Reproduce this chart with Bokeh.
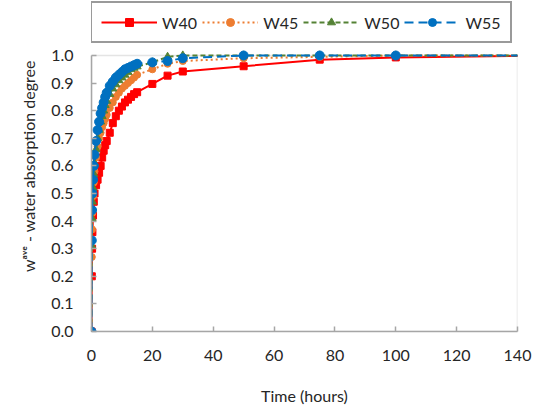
from bokeh.plotting import figure
from bokeh.models import Legend, LegendItem, Range1d, PrintfTickFormatter, FixedTicker, BoxAnnotation
from bokeh.embed import file_html
from bokeh.resources import INLINE

time_h = [0, 0.1, 0.2, 0.3, 0.5, 0.75, 1, 1.5, 2, 2.5, 3, 3.5, 4, 4.5, 5, 6, 7, 8,
          9, 10, 11, 12, 13, 14, 15, 20, 25, 30, 50, 75, 100, 150]

w40 = [0, 0.20, 0.30, 0.36, 0.42, 0.47, 0.50, 0.53, 0.55, 0.575, 0.60, 0.63, 0.655,
       0.675, 0.69, 0.72, 0.755, 0.78, 0.80, 0.815, 0.83, 0.84, 0.85, 0.86, 0.867,
       0.897, 0.927, 0.942, 0.961, 0.985, 0.993, 1.0]
w45 = [0, 0.27, 0.37, 0.43, 0.49, 0.54, 0.58, 0.63, 0.67, 0.70, 0.72, 0.74, 0.755,
       0.77, 0.785, 0.81, 0.83, 0.85, 0.865, 0.88, 0.89, 0.90, 0.91, 0.92, 0.93,
       0.95, 0.97, 0.98, 0.99, 0.995, 1.0, 1.0]
w50 = [0, 0.31, 0.41, 0.47, 0.52, 0.57, 0.61, 0.66, 0.70, 0.73, 0.76, 0.78, 0.80,
       0.82, 0.835, 0.86, 0.88, 0.895, 0.91, 0.92, 0.93, 0.94, 0.95, 0.955, 0.96,
       0.975, 0.995, 1.0, 1.0, 1.0, 1.0, 1.0]
w55 = [0, 0.33, 0.44, 0.50, 0.55, 0.60, 0.64, 0.69, 0.73, 0.76, 0.79, 0.81, 0.83,
       0.85, 0.865, 0.89, 0.905, 0.92, 0.93, 0.94, 0.95, 0.955, 0.96, 0.965, 0.97,
       0.975, 0.98, 0.99, 1.0, 1.0, 1.0, 1.0]

x_ticks = [0, 20, 40, 60, 80, 100, 120, 140]
y_ticks = [0.0, 0.1, 0.2, 0.3, 0.4, 0.5, 0.6, 0.7, 0.8, 0.9, 1.0]

FONT = "Lato"
GRAY = "#A6A6A6"

# frame spans pixel rows 0..331; value 1.0 sits at row 55
Y_TOP = 331 / 276.0

p = figure(width=535, height=411, output_backend="svg", toolbar_location=None,
           x_range=Range1d(0, 140), y_range=Range1d(0, Y_TOP),
           min_border_left=91, min_border_right=18, min_border_top=0, min_border_bottom=80)
p.grid.visible = False
p.outline_line_color = None
p.background_fill_color = "white"
p.border_fill_color = "white"

for ax in (p.xaxis[0], p.yaxis[0]):
    ax.axis_line_color = GRAY
    ax.axis_line_width = 1.5
    ax.major_tick_line_color = GRAY
    ax.major_tick_line_width = 1.5
    ax.major_tick_in = 5
    ax.major_tick_out = 0
    ax.minor_tick_line_color = None
    ax.major_label_text_font = FONT
    ax.major_label_text_font_size = "16px"
    ax.major_label_text_color = "#262626"
    ax.axis_label_text_font = FONT
    ax.axis_label_text_font_size = "16px"
    ax.axis_label_text_font_style = "normal"
    ax.axis_label_text_color = "#262626"

p.xaxis.ticker = FixedTicker(ticks=x_ticks)
p.yaxis.ticker = FixedTicker(ticks=y_ticks)
p.yaxis.bounds = (0, 1)
p.yaxis.formatter = PrintfTickFormatter(format="%.1f")
p.xaxis.axis_label = "Time (hours)"
p.yaxis.axis_label = "wᵃᵛᵉ - water absorption degree"
p.xaxis.major_label_standoff = 18
p.xaxis.axis_label_standoff = 22
p.yaxis.major_label_standoff = 18
p.yaxis.axis_label_standoff = 10

# plot-area border (top and right edges at 1.0 and 140)
p.add_layout(BoxAnnotation(left=0, right=140, bottom=0, top=1.0, fill_color=None,
                           line_color=GRAY, line_width=1.5, level="underlay"))

series = [
    ("W40", w40, "#FF0000", "solid", "square", 7),
    ("W45", w45, "#ED7D31", "dotted", "circle", 7),
    ("W50", w50, "#548235", "dashed", "triangle", 8),
    ("W55", w55, "#0070C0", "long", "circle", 9),
]
dash_map = {"solid": "solid", "dotted": "2 3", "dashed": "5 3", "long": "9 5"}

items = []
for name, ys, col, dash, marker, size in series:
    l = p.line(time_h, ys, line_color=col, line_width=2, line_dash=dash_map[dash])
    m = p.scatter(time_h, ys, marker=marker, size=size, fill_color=col, line_color=col)
    items.append(LegendItem(label=name, renderers=[l, m]))

legend = Legend(items=items, orientation="horizontal", location=(-1, 288),
                label_text_font=FONT, label_text_font_size="16px", label_text_color="#262626",
                glyph_width=56, glyph_height=20, label_standoff=5, spacing=5,
                padding=9, margin=0,
                border_line_color="#9A9A9A", border_line_width=2, border_line_alpha=1.0,
                background_fill_color="white", background_fill_alpha=1.0)
p.add_layout(legend, "center")

open("out.html", "w").write(file_html(p, INLINE))
